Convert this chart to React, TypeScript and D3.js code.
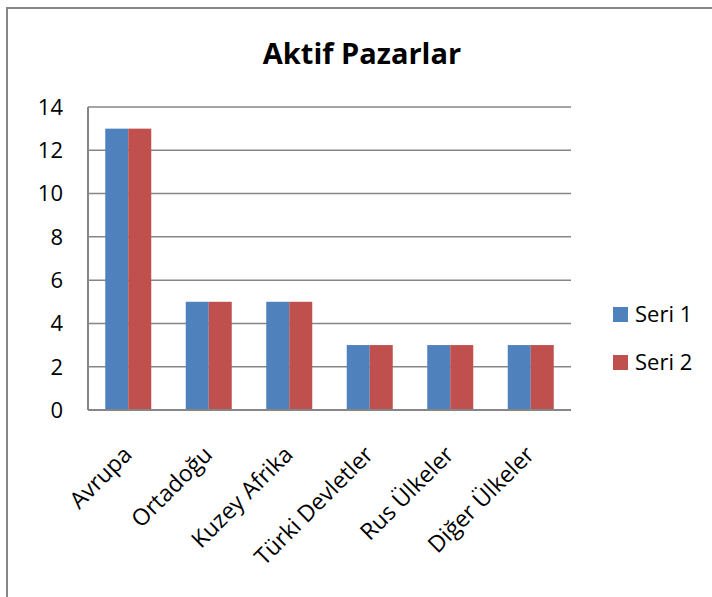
import { useEffect, useRef } from "react";
import * as d3 from "d3";

const categories = ["Avrupa", "Ortadoğu", "Kuzey Afrika", "Türki Devletler", "Rus Ülkeler", "Diğer Ülkeler"];
const seriesNames = ["Seri 1", "Seri 2"];
const seri1 = [13, 5, 5, 3, 3, 3];
const seri2 = [13, 5, 5, 3, 3, 3];
const yTicks = [0, 2, 4, 6, 8, 10, 12, 14];
const colours = ["#4F81BD", "#C0504D"];

const font = "'Open Sans', sans-serif";

export default function App() {
  const ref = useRef<SVGSVGElement>(null);

  useEffect(() => {
    const svg = d3.select(ref.current);
    svg.selectAll("*").remove();

    const left = 88, right = 571, top = 107, bottom = 410;
    const x = d3.scaleBand().domain(categories).range([left, right]).paddingInner(0).paddingOuter(0);
    const y = d3.scaleLinear().domain([0, 14]).range([bottom, top]);
    const groupW = x.bandwidth() / 1.75;
    const xs = d3.scaleBand().domain(seriesNames).range([0, groupW]);

    // chart border
    svg.append("rect")
      .attr("x", 7).attr("y", 8)
      .attr("width", 720).attr("height", 620)
      .attr("fill", "white")
      .attr("stroke", "#868686").attr("stroke-width", 2);

    svg.append("text")
      .attr("x", 362).attr("y", 64)
      .attr("text-anchor", "middle")
      .attr("font-family", font).attr("font-weight", "bold").attr("font-size", 29)
      .text("Aktif Pazarlar");

    // gridlines
    svg.append("g").selectAll("line")
      .data(yTicks.filter((t) => t > 0))
      .join("line")
      .attr("x1", left).attr("x2", right)
      .attr("y1", (d) => y(d)).attr("y2", (d) => y(d))
      .attr("stroke", "#868686").attr("stroke-width", 1.5);

    svg.append("g").selectAll("text")
      .data(yTicks)
      .join("text")
      .attr("x", 63).attr("y", (d) => y(d))
      .attr("dy", "0.36em")
      .attr("text-anchor", "end")
      .attr("font-family", font).attr("font-size", 22)
      .text((d) => d);

    const data = [seri1, seri2];
    data.forEach((vals, si) => {
      svg.append("g").selectAll("rect")
        .data(vals)
        .join("rect")
        .attr("x", (d, i) => (x(categories[i]) as number) + (x.bandwidth() - groupW) / 2 + (xs(seriesNames[si]) as number))
        .attr("y", (d) => y(d))
        .attr("width", xs.bandwidth())
        .attr("height", (d) => bottom - y(d))
        .attr("fill", colours[si]);
    });

    // axes lines
    svg.append("line")
      .attr("x1", left).attr("x2", left).attr("y1", top).attr("y2", bottom)
      .attr("stroke", "#868686").attr("stroke-width", 2);
    svg.append("line")
      .attr("x1", left).attr("x2", right).attr("y1", bottom).attr("y2", bottom)
      .attr("stroke", "#868686").attr("stroke-width", 2);

    svg.append("g").selectAll("text")
      .data(categories)
      .join("text")
      .attr("transform", (d) => {
        const cx = (x(d) as number) + x.bandwidth() / 2 + 5;
        return "translate(" + cx + ",456) rotate(-45)";
      })
      .attr("text-anchor", "end")
      .attr("font-family", font).attr("font-size", 23)
      .text((d) => d);

    // legend
    const legend = svg.append("g").selectAll("g")
      .data(seriesNames)
      .join("g")
      .attr("transform", (d, i) => "translate(613," + (307 + i * 48) + ")");
    legend.append("rect")
      .attr("width", 15).attr("height", 15)
      .attr("fill", (d, i) => colours[i]);
    legend.append("text")
      .attr("x", 22).attr("y", 15)
      .attr("font-family", font).attr("font-size", 22)
      .text((d) => d);
  }, []);

  return (
    <svg ref={ref} width={712} height={597} style={{ position: "absolute", left: 0, top: 0 }} />
  );
}
